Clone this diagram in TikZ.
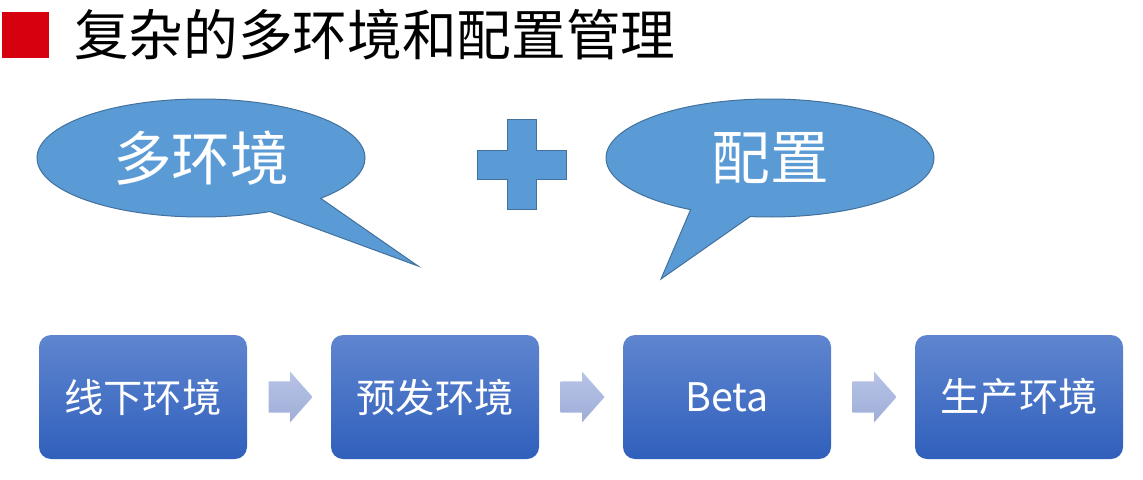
\documentclass[tikz,border=0pt]{standalone}
\usepackage{fontspec}
\setmainfont{Noto Sans CJK SC}
\usetikzlibrary{calc,shapes.arrows,shapes.callouts}
\definecolor{SlideRed}{HTML}{D7000F}
\definecolor{BubbleFill}{HTML}{5B9BD5}
\definecolor{BubbleEdge}{HTML}{41719C}
\definecolor{StageTop}{HTML}{5F85CF}
\definecolor{StageBottom}{HTML}{3060BC}
\definecolor{FlowTop}{HTML}{B7C3E6}
\definecolor{FlowBottom}{HTML}{9FAED8}
\tikzset{
  every node/.style={font=\fontsize{29.5}{32}\selectfont, text=white},
  heading/.style={anchor=west, inner sep=0pt, text=black, font=\fontsize{41}{45}\selectfont},
  bubble/.style={ellipse callout, fill=BubbleFill, draw=BubbleEdge, line width=0.75pt,
    minimum width=246pt, minimum height=88.5pt, inner sep=0pt, callout pointer arc=22,
    font=\fontsize{44}{48}\selectfont},
  plusmark/.style={fill=BubbleFill, draw=BubbleEdge, line width=0.75pt},
  stage/.style={rounded corners=9pt, top color=StageTop, bottom color=StageBottom,
    minimum width=156pt, minimum height=93pt, inner sep=0pt},
  flowarrow/.style={single arrow, anchor=tail, top color=FlowTop, bottom color=FlowBottom,
    minimum height=33pt, inner xsep=0pt, inner ysep=11.6pt,
    single arrow head extend=7.1pt, single arrow tip angle=97},
}

\begin{document}
\begin{tikzpicture}[x=0.75pt,y=-0.75pt]
  \useasboundingbox (0,0) rectangle (1143,479);
  % Title bar
  \fill[SlideRed] (2,12) rectangle (49,58);
  \node[heading] (title) at (74,35) {复杂的多环境和配置管理};
  % Speech bubbles with the plus between them
  \node[bubble, callout absolute pointer={(418,266)}] (envs) at (201,158) {多环境};
  \node[bubble, callout absolute pointer={(661,279)}] (conf) at (770,158) {配置};
  \draw[plusmark] (507,119) -- (536,119) -- (536,150) -- (566,150) -- (566,179)
    -- (536,179) -- (536,209) -- (507,209) -- (507,179) -- (477,179)
    -- (477,150) -- (507,150) -- cycle;
  % Stages: centres 292 apart, arrows 21 right of each box
  \foreach \i/\x/\t in {1/143/线下环境, 2/435/预发环境, 3/727/Beta, 4/1019/生产环境}
    \node[stage] (s\i) at (\x,397) {\t};
  \foreach \i in {1,2,3}
    \node[flowarrow] (a\i) at ($(s\i.east)+(21,0)$) {};
\end{tikzpicture}
\end{document}
